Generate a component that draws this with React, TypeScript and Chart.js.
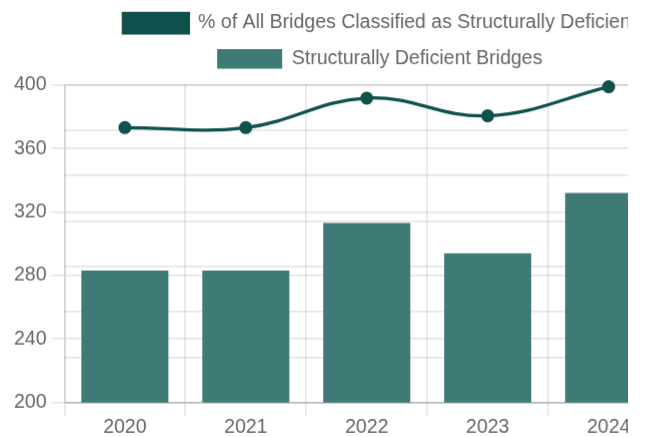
import React, { useEffect, useRef } from 'react';
import { Chart, registerables } from 'chart.js';

Chart.register(...registerables);

// ---- data ----
const years = ['2020', '2021', '2022', '2023', '2024'];
const deficientBridges = [283, 283, 313, 294, 332];
const percentDeficient = [6.06, 6.06, 6.71, 6.32, 6.96];
const leftAxisMin = 200;
const leftAxisMax = 400;
const leftAxisStep = 40;

const lineLabel = '% of All Bridges Classified as Structurally Deficient';
const barLabel = 'Structurally Deficient Bridges';

// ---- styling ----
const SCALE = 1.625;
const CANVAS_W = 450;
const CANVAS_H = 275;
const BAR_COLOR = '#3e7a76';
const LINE_COLOR = '#0f514d';

export default function App() {
  const canvasRef = useRef<HTMLCanvasElement | null>(null);

  useEffect(() => {
    const canvas = canvasRef.current;
    if (!canvas) return;
    Chart.defaults.font.family = "'Liberation Sans', Arial, Helvetica, sans-serif";
    Chart.defaults.color = '#666';
    const chart = new Chart(canvas, {
      data: {
        labels: years,
        datasets: [
          {
            type: 'line',
            label: lineLabel,
            data: percentDeficient,
            yAxisID: 'y1',
            borderColor: LINE_COLOR,
            backgroundColor: LINE_COLOR,
            pointBackgroundColor: LINE_COLOR,
            pointBorderColor: LINE_COLOR,
            borderWidth: 2,
            pointRadius: 3.5,
            pointBorderWidth: 1,
            tension: 0.4,
            fill: false,
          },
          {
            type: 'bar',
            label: barLabel,
            data: deficientBridges,
            yAxisID: 'y',
            backgroundColor: BAR_COLOR,
            borderColor: BAR_COLOR,
            borderWidth: 0,
          },
        ],
      } as any,
      options: {
        responsive: false,
        animation: false,
        devicePixelRatio: SCALE,
        plugins: {
          legend: { position: 'top' },
          tooltip: { enabled: false },
        },
        scales: {
          x: {
            ticks: { padding: 0 },
            afterFit: (s: any) => {
              s.height = 26;
            },
          },
          y: {
            position: 'left',
            min: leftAxisMin,
            max: leftAxisMax,
            ticks: { stepSize: leftAxisStep },
            afterFit: (s: any) => {
              s.width = 31;
            },
          },
          y1: {
            position: 'right',
            beginAtZero: true,
            ticks: {
              callback: (v: any) => Number(v).toFixed(1) + '%',
            },
            afterFit: (s: any) => {
              s.width = 47;
            },
          },
        },
      } as any,
    });
    return () => chart.destroy();
  }, []);

  return (
    <div
      style={{
        position: 'fixed',
        left: 0,
        top: 0,
        width: 628,
        height: 437,
        overflow: 'hidden',
        background: '#fff',
      }}
    >
      <div
        style={{
          position: 'absolute',
          left: 14,
          top: -3,
          width: CANVAS_W,
          height: CANVAS_H,
          transform: `scale(${SCALE})`,
          transformOrigin: '0 0',
        }}
      >
        <canvas ref={canvasRef} width={CANVAS_W} height={CANVAS_H} />
      </div>
    </div>
  );
}
